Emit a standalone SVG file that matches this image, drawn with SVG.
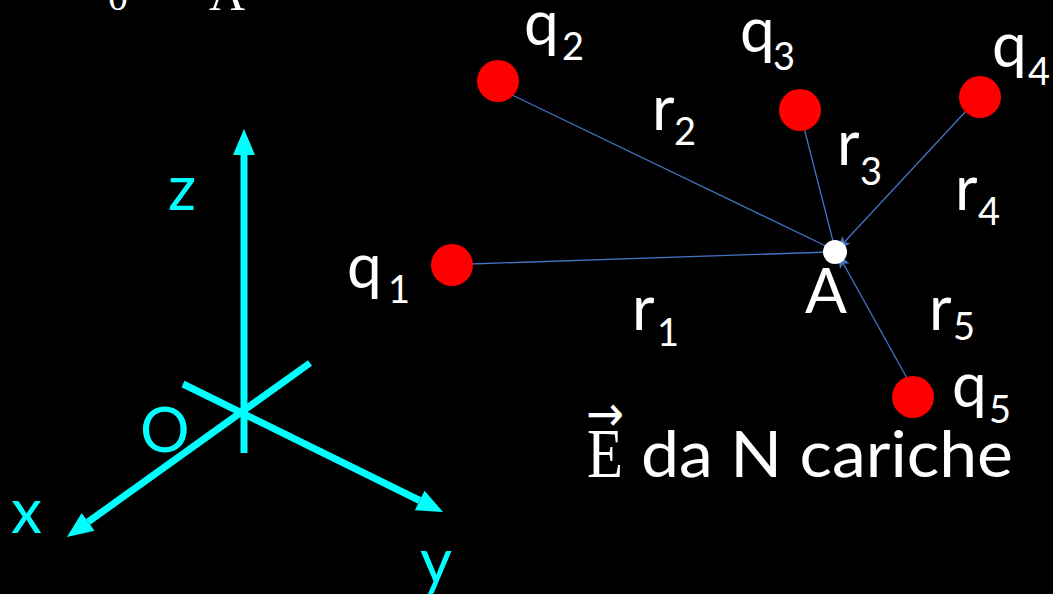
<svg xmlns="http://www.w3.org/2000/svg" width="1053" height="594" viewBox="0 0 1053 594">
<style>
.lbl{font-family:Lato,"Liberation Sans",sans-serif;font-size:62px;fill:#fff}
.sub{font-family:Lato,"Liberation Sans",sans-serif;font-size:38px;fill:#fff}
.ax{font-family:Lato,"Liberation Sans",sans-serif;font-size:62px;fill:#00ffff}
.axis{stroke:#00ffff;stroke-width:7;fill:none}
.ray{stroke:#4472c4;stroke-width:1.3;fill:none}
.charge{fill:#ff0000}
.serif{font-family:"Liberation Serif",serif;fill:#fff}
</style>
<defs>
<marker id="cyanHead" markerUnits="userSpaceOnUse" markerWidth="30" markerHeight="24" refX="0" refY="0" viewBox="0 -12 27 24" orient="auto" overflow="visible">
<path d="M0,-11 L26,0 L0,11 z" fill="#00ffff"/>
</marker>
<marker id="blueHead" markerUnits="userSpaceOnUse" markerWidth="16" markerHeight="12" refX="14" refY="0" viewBox="0 -6 16 12" orient="auto" overflow="visible">
<path d="M0,-5.5 L14,0 L0,5.5 L3,0 z" fill="#4472c4"/>
</marker>
</defs>
<rect width="1053" height="594" fill="#000"/>

<g id="top-formula">
<text class="serif" x="108" y="10" font-size="40">0</text>
<text class="serif" x="209" y="10" font-size="50">A</text>
</g>

<g id="axes">
<line class="axis" x1="244" y1="453" x2="244" y2="155" marker-end="url(#cyanHead)"/>
<line class="axis" x1="183" y1="384" x2="419.7" y2="500.5" marker-end="url(#cyanHead)"/>
<line class="axis" x1="310" y1="363" x2="88.1" y2="521.9" marker-end="url(#cyanHead)"/>
<text class="ax" x="168" y="210">z</text>
<text class="ax" x="140" y="452">O</text>
<text class="ax" x="11" y="533">x</text>
<text class="ax" x="420" y="583">y</text>
</g>

<g id="connectors">
<line class="ray" x1="470" y1="264" x2="830" y2="252"/>
<line class="ray" x1="510" y1="94" x2="830" y2="248"/>
<line class="ray" x1="800" y1="112" x2="834" y2="245"/>
<line class="ray" x1="967" y1="110" x2="837" y2="250" marker-end="url(#blueHead)"/>
<line class="ray" x1="908" y1="380" x2="838" y2="254" marker-end="url(#blueHead)"/>
</g>

<g id="q1"><circle class="charge" cx="452" cy="265" r="21"/><text class="lbl" x="347" y="288">q</text><text class="sub" x="388" y="303">1</text></g>
<g id="q2"><circle class="charge" cx="498" cy="81" r="21"/><text class="lbl" x="524" y="45">q</text><text class="sub" x="562" y="60">2</text></g>
<g id="q3"><circle class="charge" cx="800" cy="110" r="21"/><text class="lbl" x="740" y="52">q</text><text class="sub" x="773" y="70">3</text></g>
<g id="q4"><circle class="charge" cx="980" cy="97" r="21"/><text class="lbl" x="992" y="67">q</text><text class="sub" x="1028" y="85">4</text></g>
<g id="q5"><circle class="charge" cx="913" cy="397" r="21"/><text class="lbl" x="952" y="407">q</text><text class="sub" x="989" y="423">5</text></g>

<g id="A"><circle cx="835" cy="252" r="12" fill="#fff"/><text class="lbl" x="805" y="313">A</text></g>

<g id="distances">
<text class="lbl" x="632" y="330">r</text><text class="sub" x="657" y="346">1</text>
<text class="lbl" x="652" y="130">r</text><text class="sub" x="674" y="145">2</text>
<text class="lbl" x="837" y="165">r</text><text class="sub" x="860" y="185">3</text>
<text class="lbl" x="955" y="210">r</text><text class="sub" x="978" y="225">4</text>
<text class="lbl" x="929" y="330">r</text><text class="sub" x="953" y="340">5</text>
</g>

<g id="title">
<text font-family="'DejaVu Sans',sans-serif" font-size="50" fill="#fff" x="586" y="431" textLength="38" lengthAdjust="spacingAndGlyphs">→</text>
<text class="serif" x="587" y="477" font-size="70" textLength="36" lengthAdjust="spacingAndGlyphs">E</text>
<text class="lbl" x="641" y="477" textLength="372" lengthAdjust="spacingAndGlyphs" style="font-size:64px">da N cariche</text>
</g>
</svg>
